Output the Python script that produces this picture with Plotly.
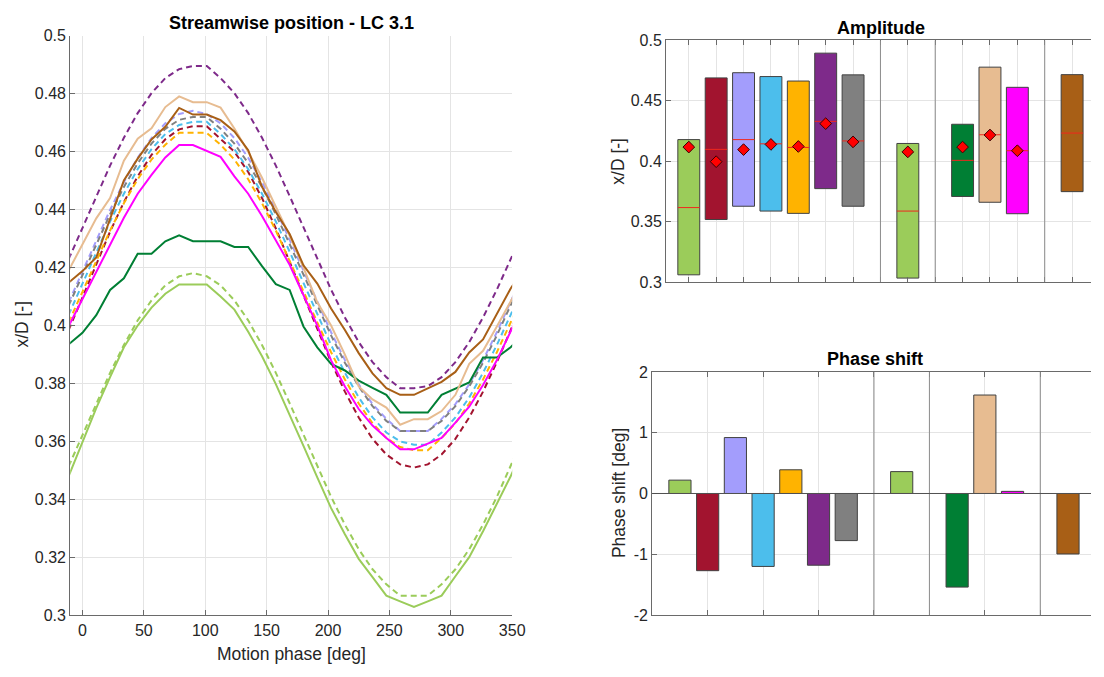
import plotly.graph_objects as go

# ---------------- data ----------------
phase_deg = [-11.25, 0.0, 11.25, 22.5, 33.75, 45.0, 56.25, 67.5, 78.75, 90.0, 101.25, 112.5,
             123.75, 135.0, 146.25, 157.5, 168.75, 180.0, 191.25, 202.5, 213.75, 225.0, 236.25,
             247.5, 258.75, 270.0, 281.25, 292.5, 303.75, 315.0, 326.25, 337.5, 348.75, 360.0]

lg_dash = [0.3514, 0.3623, 0.3732, 0.3837, 0.3933, 0.4018, 0.4087, 0.4139, 0.4170, 0.4181, 0.4170, 0.4139,
           0.4087, 0.4018, 0.3933, 0.3837, 0.3732, 0.3623, 0.3514, 0.3409, 0.3313, 0.3228, 0.3159,
           0.3107, 0.3068, 0.3068, 0.3068, 0.3107, 0.3159, 0.3228, 0.3313, 0.3409, 0.3514, 0.3623]
dark_red = [0.3984, 0.4099, 0.4214, 0.4324, 0.4426, 0.4515, 0.4589, 0.4643, 0.4677, 0.4688, 0.4688, 0.4643,
            0.4600, 0.4530, 0.4440, 0.4335, 0.4220, 0.4099, 0.3984, 0.3874, 0.3772, 0.3683, 0.3609,
            0.3555, 0.3521, 0.3510, 0.3521, 0.3555, 0.3609, 0.3683, 0.3772, 0.3874, 0.3984, 0.4099]
lavender = [0.4080, 0.4188, 0.4296, 0.4399, 0.4495, 0.4579, 0.4647, 0.4698, 0.4730, 0.4741, 0.4730, 0.4698,
            0.4647, 0.4579, 0.4495, 0.4399, 0.4296, 0.4188, 0.4080, 0.3977, 0.3881, 0.3797, 0.3729,
            0.3678, 0.3636, 0.3636, 0.3636, 0.3678, 0.3729, 0.3797, 0.3881, 0.3977, 0.4080, 0.4188]
light_blue = [0.4037, 0.4146, 0.4255, 0.4359, 0.4455, 0.4540, 0.4609, 0.4661, 0.4692, 0.4703, 0.4703, 0.4661,
              0.4609, 0.4540, 0.4455, 0.4359, 0.4255, 0.4146, 0.4037, 0.3933, 0.3837, 0.3752, 0.3683,
              0.3631, 0.3600, 0.3589, 0.3589, 0.3631, 0.3683, 0.3752, 0.3837, 0.3933, 0.4037, 0.4146]
orange = [0.4011, 0.4118, 0.4225, 0.4328, 0.4422, 0.4505, 0.4573, 0.4624, 0.4665, 0.4665, 0.4665, 0.4624,
          0.4573, 0.4505, 0.4422, 0.4328, 0.4225, 0.4118, 0.4011, 0.3908, 0.3814, 0.3731, 0.3663,
          0.3612, 0.3581, 0.3570, 0.3570, 0.3612, 0.3663, 0.3731, 0.3814, 0.3908, 0.4011, 0.4118]
purple = [0.4229, 0.4338, 0.4447, 0.4552, 0.4648, 0.4733, 0.4802, 0.4854, 0.4885, 0.4896, 0.4896, 0.4854,
          0.4802, 0.4733, 0.4648, 0.4552, 0.4447, 0.4338, 0.4229, 0.4124, 0.4028, 0.3943, 0.3874,
          0.3822, 0.3784, 0.3784, 0.3791, 0.3822, 0.3874, 0.3943, 0.4028, 0.4124, 0.4229, 0.4338]
gray = [0.4069, 0.4175, 0.4281, 0.4384, 0.4478, 0.4560, 0.4628, 0.4679, 0.4710, 0.4720, 0.4720, 0.4679,
        0.4628, 0.4560, 0.4478, 0.4384, 0.4281, 0.4175, 0.4069, 0.3966, 0.3872, 0.3790, 0.3722,
        0.3671, 0.3636, 0.3636, 0.3636, 0.3671, 0.3722, 0.3790, 0.3872, 0.3966, 0.4069, 0.4175]
lg_solid = [0.3480, 0.3600, 0.3715, 0.3822, 0.3925, 0.4000, 0.4062, 0.4110, 0.4142, 0.4142, 0.4142, 0.4100,
            0.4055, 0.3979, 0.3894, 0.3798, 0.3694, 0.3585, 0.3476, 0.3370, 0.3280, 0.3195, 0.3132,
            0.3068, 0.3048, 0.3029, 0.3048, 0.3068, 0.3135, 0.3201, 0.3290, 0.3385, 0.3480, 0.3585]
dark_green = [0.3935, 0.3975, 0.4036, 0.4123, 0.4163, 0.4248, 0.4248, 0.4291, 0.4311, 0.4291, 0.4291, 0.4291,
              0.4271, 0.4271, 0.4205, 0.4143, 0.4123, 0.3997, 0.3925, 0.3868, 0.3845, 0.3810, 0.3785,
              0.3761, 0.3700, 0.3700, 0.3700, 0.3761, 0.3782, 0.3804, 0.3890, 0.3890, 0.3925, 0.3975]
tan = [0.4190, 0.4280, 0.4370, 0.4440, 0.4569, 0.4645, 0.4681, 0.4754, 0.4791, 0.4771, 0.4771, 0.4752,
       0.4680, 0.4600, 0.4510, 0.4410, 0.4310, 0.4200, 0.4080, 0.4000, 0.3900, 0.3790, 0.3745,
       0.3717, 0.3658, 0.3677, 0.3677, 0.3705, 0.3761, 0.3868, 0.3913, 0.3997, 0.4087, 0.4170]
magenta = [0.3998, 0.4091, 0.4185, 0.4280, 0.4372, 0.4455, 0.4520, 0.4580, 0.4623, 0.4623, 0.4603, 0.4582,
           0.4515, 0.4455, 0.4378, 0.4295, 0.4210, 0.4105, 0.4000, 0.3880, 0.3790, 0.3712, 0.3655,
           0.3612, 0.3573, 0.3573, 0.3592, 0.3612, 0.3665, 0.3720, 0.3795, 0.3880, 0.3980, 0.4080]
brown = [0.4148, 0.4188, 0.4235, 0.4370, 0.4501, 0.4576, 0.4642, 0.4686, 0.4751, 0.4728, 0.4728, 0.4709,
         0.4670, 0.4605, 0.4479, 0.4392, 0.4316, 0.4208, 0.4145, 0.4059, 0.3985, 0.3905, 0.3835,
         0.3784, 0.3761, 0.3761, 0.3784, 0.3806, 0.3840, 0.3907, 0.3952, 0.4042, 0.4128, 0.4200]

# case positions along the bar-chart axes (gaps separate groups)
case_pos = [1, 2, 3, 4, 5, 6, 7, 9, 11, 12, 13, 15]
case_colors = ["#9BCC5A", "#A2142F", "#A39DFC", "#4CBEEC", "#FFB300", "#7E2A8A",
               "#808080", "#9BCC5A", "#007F34", "#E7BC91", "#FF00FF", "#A85F16"]
group_separators = [8, 10, 14]

amp_max = [0.4179, 0.4690, 0.4733, 0.4701, 0.4664, 0.4895, 0.4715, 0.4147, 0.4306, 0.4779, 0.4612, 0.4717]
amp_min = [0.3059, 0.3517, 0.3627, 0.3587, 0.3568, 0.3773, 0.3627, 0.3032, 0.3708, 0.3660, 0.3565, 0.3748]
amp_median = [0.3616, 0.4098, 0.4179, 0.4144, 0.4114, 0.4330, 0.4168, 0.3587, 0.4007, 0.4219, 0.4087, 0.4233]
amp_mean = [0.4117, 0.3996, 0.4096, 0.4139, 0.4122, 0.4311, 0.4160, 0.4077, 0.4117, 0.4217, 0.4087, None]

phase_shift = [0.22, -1.27, 0.92, -1.20, 0.39, -1.18, -0.775, 0.36, -1.54, 1.62, 0.035, -0.995]

x_ticks_left = [0, 50, 100, 150, 200, 250, 300, 350]
y_ticks_left = [0.3, 0.32, 0.34, 0.36, 0.38, 0.4, 0.42, 0.44, 0.46, 0.48, 0.5]
y_ticks_amp = [0.3, 0.35, 0.4, 0.45, 0.5]
y_ticks_phase = [-2, -1, 0, 1, 2]
x_grid_amp = list(range(1, 16))
x_grid_phase = [2, 4, 6, 8, 10, 12, 14]

# ---------------- styling ----------------
W, H = 1104, 677
FONT = "Liberation Sans, Arial, Helvetica, sans-serif"
TXT = "#262626"
GRID = "#e4e4e4"
AXL = "#6a6a6a"


def fx(px):
    return px / W


def fy(py):
    return 1 - py / H


dash_series = [
    (lg_dash, "#9BCC5A"), (dark_red, "#A2142F"), (lavender, "#A39DFC"),
    (light_blue, "#4CBEEC"), (orange, "#FFB300"), (purple, "#7E2A8A"), (gray, "#808080"),
]
solid_series = [
    (lg_solid, "#9BCC5A"), (dark_green, "#007F34"), (tan, "#E7BC91"),
    (magenta, "#FF00FF"), (brown, "#A85F16"),
]

fig = go.Figure()

for ys, col in dash_series:
    fig.add_trace(go.Scatter(x=phase_deg, y=ys, mode="lines", xaxis="x", yaxis="y",
                             line=dict(color=col, width=2, dash="6px,4px"),
                             showlegend=False, hoverinfo="skip"))
for ys, col in solid_series:
    fig.add_trace(go.Scatter(x=phase_deg, y=ys, mode="lines", xaxis="x", yaxis="y",
                             line=dict(color=col, width=2),
                             showlegend=False, hoverinfo="skip"))

# amplitude range boxes
heights = [mx - mn for mx, mn in zip(amp_max, amp_min)]
fig.add_trace(go.Bar(x=case_pos, y=heights, base=amp_min, width=0.8, xaxis="x2", yaxis="y2",
                     marker=dict(color=case_colors, line=dict(color="#404040", width=1)),
                     showlegend=False, hoverinfo="skip"))
med_x, med_y = [], []
for p, m in zip(case_pos, amp_median):
    med_x += [p - 0.4, p + 0.4, None]
    med_y += [m, m, None]
fig.add_trace(go.Scatter(x=med_x, y=med_y, mode="lines", xaxis="x2", yaxis="y2",
                         line=dict(color="#F0281E", width=1), showlegend=False, hoverinfo="skip"))
mean_x = [p for p, m in zip(case_pos, amp_mean) if m is not None]
mean_y = [m for m in amp_mean if m is not None]
fig.add_trace(go.Scatter(x=mean_x, y=mean_y, mode="markers", xaxis="x2", yaxis="y2",
                         marker=dict(symbol="diamond", size=9, color="#FF0000",
                                     line=dict(color="#3a0000", width=1)),
                         showlegend=False, hoverinfo="skip"))

# phase shift bars
fig.add_trace(go.Bar(x=case_pos, y=phase_shift, width=0.8, xaxis="x3", yaxis="y3",
                     marker=dict(color=case_colors, line=dict(color="#404040", width=1)),
                     showlegend=False, hoverinfo="skip"))

tickfont = dict(family=FONT, size=16, color=TXT)
common = dict(showgrid=True, gridcolor=GRID, gridwidth=1, showline=True, linecolor=AXL, linewidth=1,
              ticks="inside", ticklen=5, tickcolor=AXL, zeroline=False, tickfont=tickfont, fixedrange=True)

shapes = []
for s in group_separators:
    shapes.append(dict(type="line", xref="x2", yref="y2 domain", x0=s, x1=s, y0=0, y1=1,
                       line=dict(color="#8c8c8c", width=1), layer="above"))
    shapes.append(dict(type="line", xref="x3", yref="y3 domain", x0=s, x1=s, y0=0, y1=1,
                       line=dict(color="#8c8c8c", width=1), layer="above"))
shapes.append(dict(type="line", xref="x3 domain", yref="y3", x0=0, x1=1, y0=0, y1=0,
                   line=dict(color="#505050", width=1), layer="above"))

ann_title = dict(family=FONT, size=18, color="#000000")
ann_lbl = dict(family=FONT, size=17.5, color=TXT)
annotations = [
    dict(text="<b>Streamwise position - LC 3.1</b>", x=fx(294.6), y=fy(15), font=ann_title),
    dict(text="<b>Amplitude</b>", x=fx(891), y=fy(21), font=ann_title),
    dict(text="<b>Phase shift</b>", x=fx(885), y=fy(360), font=ann_title),
    dict(text="Motion phase [deg]", x=fx(294.6), y=fy(663), font=ann_lbl),
    dict(text="x/D [-]", x=fx(22), y=fy(324), font=ann_lbl, textangle=-90),
    dict(text="x/D [-]", x=fx(625), y=fy(157), font=ann_lbl, textangle=-90),
    dict(text="Phase shift [deg]", x=fx(627), y=fy(498), font=ann_lbl, textangle=-90),
]
for a in annotations:
    a.update(xref="paper", yref="paper", showarrow=False, xanchor="center", yanchor="middle")

fig.update_layout(
    width=W, height=H, autosize=False,
    margin=dict(l=0, r=0, t=0, b=0, pad=0),
    paper_bgcolor="white", plot_bgcolor="white",
    barmode="overlay", showlegend=False,
    xaxis=dict(domain=[fx(71), fx(518.3)], range=[-10, 350], tickvals=x_ticks_left,
               ticktext=[str(v) for v in x_ticks_left], anchor="y", **common),
    yaxis=dict(domain=[fy(623), fy(28.5)], range=[0.3, 0.5], tickvals=y_ticks_left,
               ticktext=[("%g" % v) for v in y_ticks_left], anchor="x", **common),
    xaxis2=dict(domain=[fx(674), 1.0], range=[0.17, 15.69], tickvals=x_grid_amp,
                showticklabels=False, anchor="y2", mirror="ticks", **common),
    yaxis2=dict(domain=[fy(281), fy(33.3)], range=[0.3, 0.5], tickvals=y_ticks_amp,
                ticktext=[("%g" % v) for v in y_ticks_amp], anchor="x2", **common),
    xaxis3=dict(domain=[fx(660), 1.0], range=[0, 15.83], tickvals=x_grid_phase,
                showticklabels=False, anchor="y3", mirror="ticks", **common),
    yaxis3=dict(domain=[fy(622.7), fy(373.3)], range=[-2, 2], tickvals=y_ticks_phase,
                ticktext=[str(v) for v in y_ticks_phase], anchor="x3", **common),
    shapes=shapes, annotations=annotations,
)

fig.write_html("out.html", config={"displayModeBar": False})
